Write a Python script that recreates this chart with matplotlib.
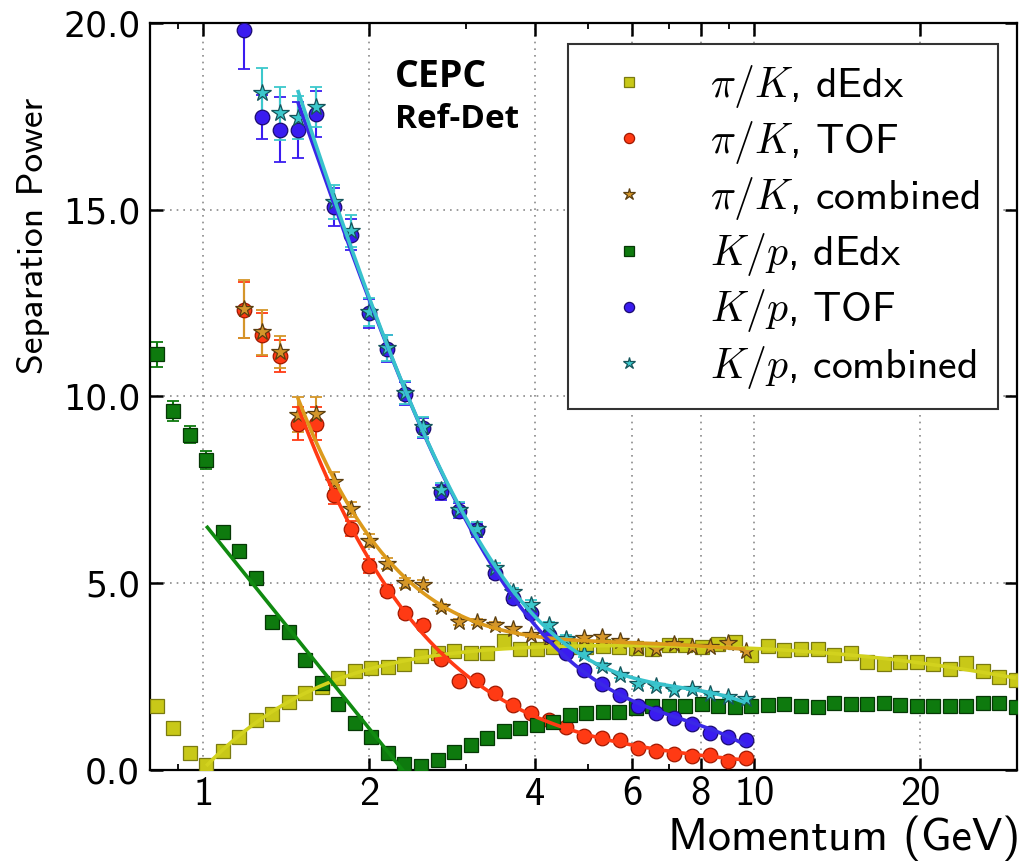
import os
import numpy as np
import matplotlib
matplotlib.use("Agg")
import matplotlib.pyplot as plt
from matplotlib.ticker import FixedLocator, FixedFormatter, NullFormatter
from matplotlib.font_manager import FontProperties

# ---------------------------------------------------------------- data
# momentum bin centres (GeV) for the dE/dx samples
p_dedx = [0.822, 0.881, 0.944, 1.012, 1.084, 1.161, 1.245, 1.334, 1.429, 1.531,
          1.641, 1.758, 1.884, 2.018, 2.163, 2.317, 2.483, 2.661, 2.851, 3.055,
          3.273, 3.508, 3.758, 4.027, 4.315, 4.624, 4.955, 5.309, 5.689, 6.095,
          6.531, 6.998, 7.499, 8.035, 8.610, 9.226, 9.886, 10.59, 11.35, 12.16,
          13.03, 13.96, 14.96, 16.03, 17.18, 18.41, 19.72, 21.14, 22.65, 24.27,
          26.00, 27.86, 29.85]

# momentum bin centres (GeV) for the TOF / combined samples
p_tof = [1.185, 1.277, 1.377, 1.483, 1.599, 1.723, 1.857, 2.002, 2.158, 2.325,
         2.506, 2.701, 2.911, 3.137, 3.381, 3.644, 3.927, 4.232, 4.561, 4.916,
         5.298, 5.709, 6.153, 6.631, 7.147, 7.702, 8.301, 8.946, 9.643]

pik_dedx = [1.70, 1.12, 0.45, 0.13, 0.52, 0.89, 1.34, 1.50, 1.83, 2.07,
            2.23, 2.46, 2.65, 2.72, 2.75, 2.84, 3.04, 3.12, 3.18, 3.13,
            3.14, 3.45, 3.25, 3.25, 3.29, 3.30, 3.29, 3.32, 3.29, 3.26,
            3.23, 3.35, 3.35, 3.30, 3.37, 3.42, 3.08, 3.32, 3.21, 3.23,
            3.23, 3.08, 3.13, 2.90, 2.84, 2.90, 2.90, 2.84, 2.70, 2.86,
            2.66, 2.50, 2.41]
pik_dedx_err = [0.05] * len(pik_dedx)

kp_dedx = [11.12, 9.60, 8.97, 8.30, 6.36, 5.85, 5.13, 3.97, 3.69, 2.95,
           2.34, 1.77, 1.25, 0.88, 0.45, 0.16, 0.10, 0.26, 0.49, 0.67,
           0.85, 1.03, 1.12, 1.21, 1.29, 1.46, 1.52, 1.54, 1.56, 1.65,
           1.72, 1.70, 1.70, 1.76, 1.71, 1.68, 1.71, 1.74, 1.77, 1.71,
           1.68, 1.80, 1.77, 1.77, 1.80, 1.74, 1.71, 1.71, 1.70, 1.71,
           1.80, 1.79, 1.68]
kp_dedx_err = [0.33, 0.27, 0.23, 0.25] + [0.08] * (len(kp_dedx) - 4)

pik_tof = [12.30, 11.65, 11.07, 9.27, 9.27, 7.37, 6.45, 5.46, 4.80, 4.21,
           3.89, 2.98, 2.37, 2.42, 2.07, 1.75, 1.53, 1.34, 1.16, 0.91,
           0.85, 0.81, 0.60, 0.52, 0.44, 0.38, 0.41, 0.25, 0.33]
pik_tof_err = [0.75, 0.58, 0.43, 0.45, 0.44, 0.25, 0.20, 0.18, 0.15, 0.13,
               0.12, 0.10, 0.08, 0.08, 0.07, 0.06, 0.05, 0.05, 0.04, 0.04,
               0.03, 0.03, 0.03, 0.02, 0.02, 0.02, 0.02, 0.02, 0.02]

pik_comb = [12.34, 11.71, 11.18, 9.51, 9.54, 7.72, 6.98, 6.14, 5.52, 5.00,
            4.96, 4.35, 3.96, 3.97, 3.88, 3.76, 3.60, 3.50, 3.48, 3.53,
            3.55, 3.45, 3.30, 3.23, 3.38, 3.30, 3.30, 3.40, 3.18]
pik_comb_err = [0.77, 0.60, 0.43, 0.46, 0.45, 0.25, 0.20, 0.18, 0.15, 0.13,
                0.12, 0.10, 0.08, 0.08, 0.07, 0.06, 0.05, 0.05, 0.04, 0.04,
                0.03, 0.03, 0.03, 0.03, 0.03, 0.03, 0.03, 0.03, 0.03]

kp_tof = [19.80, 17.48, 17.14, 17.13, 17.55, 15.07, 14.33, 12.22, 11.27, 10.07,
          9.15, 7.43, 6.94, 6.41, 5.28, 4.59, 4.19, 3.62, 3.13, 2.67,
          2.31, 2.00, 1.72, 1.53, 1.38, 1.24, 0.99, 0.89, 0.80]
kp_tof_err = [1.05, 0.58, 0.88, 0.76, 0.62, 0.50, 0.42, 0.39, 0.36, 0.31,
              0.27, 0.20, 0.20, 0.18, 0.15, 0.13, 0.12, 0.10, 0.09, 0.08,
              0.07, 0.06, 0.05, 0.05, 0.04, 0.04, 0.03, 0.03, 0.03]

kp_comb = [np.nan, 18.13, 17.57, 17.46, 17.75, 15.20, 14.42, 12.25, 11.30, 10.10,
           9.18, 7.48, 6.97, 6.45, 5.40, 4.75, 4.42, 3.87, 3.51, 3.10,
           2.79, 2.53, 2.31, 2.25, 2.15, 2.17, 2.04, 1.95, 1.89]
kp_comb_err = [np.nan, 0.67, 0.70, 0.57, 0.54, 0.45, 0.42, 0.38, 0.35, 0.30,
               0.27, 0.20, 0.20, 0.18, 0.15, 0.13, 0.12, 0.10, 0.09, 0.08,
               0.07, 0.06, 0.05, 0.05, 0.04, 0.04, 0.03, 0.03, 0.03]

labels = [r"$\pi/K$, dEdx", r"$\pi/K$, TOF", r"$\pi/K$, combined",
          r"$K/p$, dEdx", r"$K/p$, TOF", r"$K/p$, combined"]

x_major = [1, 2, 4, 6, 8, 10, 20]
x_major_labels = ["1", "2", "4", "6", "8", "10", "20"]
x_minor = [0.9, 3, 5, 7, 9, 30]
y_ticks = [0, 5, 10, 15, 20]
y_tick_labels = ["0.0", "5.0", "10.0", "15.0", "20.0"]

# ---------------------------------------------------------------- style
plt.rcParams.update({
    "mathtext.fontset": "cm",
    "axes.unicode_minus": False,
})
CMSS = os.path.join(matplotlib.get_data_path(), "fonts", "ttf", "cmss10.ttf")


def sans(size):
    return FontProperties(fname=CMSS, size=size)


series = [
    # values, errors, momenta, marker, face, edge, line colour, marker size
    (pik_dedx, pik_dedx_err, p_dedx, "s", "#c8c818", "#7a7a10", "#d2d21e", 9.5),
    (pik_tof, pik_tof_err, p_tof, "o", "#ff3a14", "#a01800", "#ff3a14", 10.5),
    (pik_comb, pik_comb_err, p_tof, "*", "#d4962a", "#5a3e10", "#dc9a1c", 13),
    (kp_dedx, kp_dedx_err, p_dedx, "s", "#0e7a0e", "#063806", "#108a10", 9.5),
    (kp_tof, kp_tof_err, p_tof, "o", "#3a1cf0", "#1a0a70", "#3a28e6", 10.5),
    (kp_comb, kp_comb_err, p_tof, "*", "#3cc8cc", "#15545a", "#38c2cc", 13),
]


def fit_curve(p, v, lo, hi, deg, start=None):
    """Polynomial fit in log(p) over bins lo..hi, evaluated on a fine grid."""
    p = np.asarray(p, float)
    v = np.asarray(v, float)
    coef = np.polyfit(np.log10(p[lo:hi + 1]), v[lo:hi + 1], deg)
    p0 = p[lo] if start is None else start
    xs = np.geomspace(p0, p[hi], 300)
    return xs, np.polyval(coef, np.log10(xs))


fits = [
    fit_curve(p_dedx, pik_dedx, 3, 52, 5),
    fit_curve(p_tof, pik_tof, 3, 28, 4),
    fit_curve(p_tof, pik_comb, 3, 28, 4),
    fit_curve(p_dedx, kp_dedx, 4, 16, 1, start=p_dedx[3]),
    fit_curve(p_tof, kp_tof, 3, 28, 4),
    fit_curve(p_tof, kp_comb, 3, 28, 4),
]

# ---------------------------------------------------------------- figure
fig = plt.figure(figsize=(10.22, 8.66), dpi=100)
ax = fig.add_axes([0.1468, 0.1109, 0.8483, 0.8629])
ax.set_xscale("log")
ax.set_xlim(0.8, 30)
ax.set_ylim(0, 20)

handles = []
for k, (vals, errs, mom, mk, fc, ec, lc, ms) in enumerate(series):
    ax.errorbar(mom, vals, yerr=errs, fmt="none", ecolor=fc, elinewidth=1.5,
                capsize=4, capthick=1.3, zorder=2 + k * 0.1)
    h, = ax.plot(mom, vals, ls="none", marker=mk, ms=ms, mfc=fc, mec=ec,
                 mew=0.9, zorder=3 + k * 0.1)
    handles.append(h)

for (xs, ys), s in zip(fits, series):
    ax.plot(xs, ys, color=s[6], lw=2.6, zorder=5, solid_capstyle="butt")

# axes, ticks, grid
ax.xaxis.set_major_locator(FixedLocator(x_major))
ax.xaxis.set_major_formatter(FixedFormatter(x_major_labels))
ax.xaxis.set_minor_locator(FixedLocator(x_minor))
ax.xaxis.set_minor_formatter(NullFormatter())
ax.set_yticks(y_ticks)
ax.set_yticklabels(y_tick_labels, fontfamily="DejaVu Sans", fontsize=25)
for t in ax.get_xticklabels():
    t.set_fontproperties(sans(29))
ax.tick_params(which="both", direction="in", top=True, right=True)
ax.tick_params(which="major", length=9, width=1.8)
ax.tick_params(which="minor", length=4.5, width=1.3)
ax.tick_params(axis="y", pad=7)
ax.tick_params(axis="x", pad=4)
for sp in ax.spines.values():
    sp.set_linewidth(1.6)
    sp.set_color("black")
ax.grid(True, which="major", ls=(0, (1, 3)), color="#8a8a8a", lw=1.2)
ax.set_axisbelow(True)

ax.set_ylabel("Separation Power", fontproperties=sans(27))
ax.yaxis.set_label_coords(-0.115, 0.715)
ax.set_xlabel("Momentum (GeV)", fontproperties=sans(33), ha="right", va="baseline")
ax.xaxis.set_label_coords(1.0035, -0.107)

ax.text(0.2826, 0.9144, "CEPC", transform=ax.transAxes, fontfamily="Open Sans",
        fontweight="bold", fontsize=27, va="baseline", zorder=6)
ax.text(0.2826, 0.859, "Ref-Det", transform=ax.transAxes, fontfamily="Open Sans",
        fontweight="bold", fontsize=24, va="baseline", zorder=6)

leg = ax.legend(handles, labels, loc="upper right", bbox_to_anchor=(0.978, 0.9715),
                borderaxespad=0, prop=sans(30),
                frameon=True, fancybox=False, edgecolor="#333333", framealpha=1,
                handlelength=2.02, handletextpad=0.93, borderpad=0.45,
                labelspacing=0.22, markerscale=0.7, numpoints=1)
leg.get_frame().set_linewidth(1.5)
leg.set_zorder(10)

fig.savefig("out.png", dpi=100)
